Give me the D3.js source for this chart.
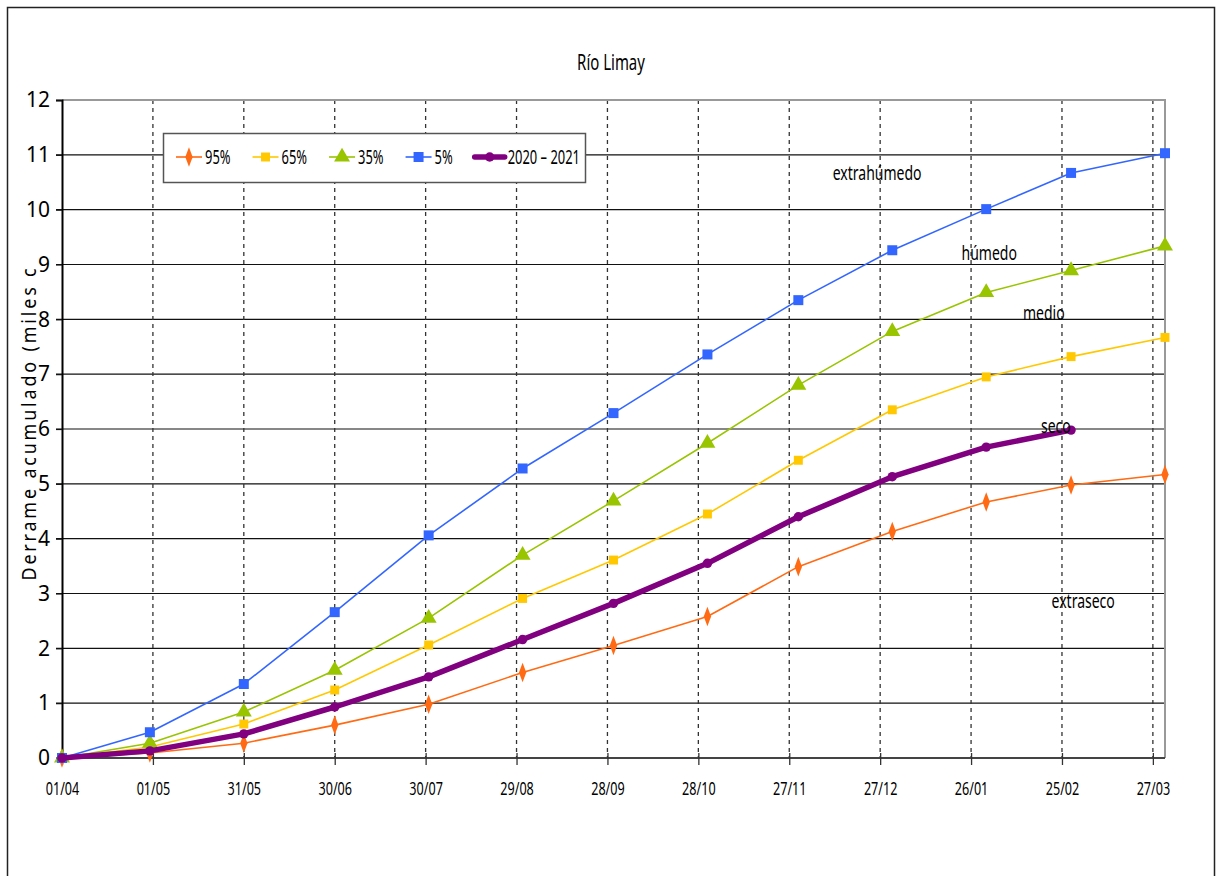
<!DOCTYPE html>
<html>
<head>
<meta charset="utf-8">
<script src="https://cdn.jsdelivr.net/npm/d3@7"></script>
<style>
	body { margin: 0; background: #fff; }
	svg { display: block; }
	text { font-family: "Noto Sans", "DejaVu Sans", sans-serif; fill: #000; }
</style>
</head>
<body>
<svg id="graphic" width="1222" height="876"></svg>
<script>
var W = 1222, H = 876;

// month-end dates of the hydrological year
var dates = ["2020-04-01", "2020-04-30", "2020-05-31", "2020-06-30", "2020-07-31", "2020-08-31",
	"2020-09-30", "2020-10-31", "2020-11-30", "2020-12-31", "2021-01-31", "2021-02-28", "2021-03-31"];

var tickDates = ["2020-04-01", "2020-05-01", "2020-05-31", "2020-06-30", "2020-07-30", "2020-08-29",
	"2020-09-28", "2020-10-28", "2020-11-27", "2020-12-27", "2021-01-26", "2021-02-25", "2021-03-27"];

var yTicks = [0, 1, 2, 3, 4, 5, 6, 7, 8, 9, 10, 11, 12];

var seriesNames = ["95%", "65%", "35%", "5%", "2020 – 2021"];
var p95 = [0, 0.09, 0.27, 0.60, 0.98, 1.56, 2.05, 2.58, 3.49, 4.13, 4.67, 4.98, 5.17];
var p65 = [0, 0.20, 0.62, 1.24, 2.06, 2.91, 3.61, 4.45, 5.43, 6.35, 6.95, 7.32, 7.67];
var p35 = [0, 0.27, 0.84, 1.60, 2.55, 3.70, 4.69, 5.74, 6.80, 7.78, 8.49, 8.89, 9.34];
var p05 = [0, 0.47, 1.35, 2.66, 4.06, 5.28, 6.29, 7.36, 8.35, 9.26, 10.01, 10.67, 11.03];
var y2021 = [0, 0.13, 0.44, 0.93, 1.48, 2.16, 2.82, 3.55, 4.40, 5.13, 5.67, 5.98];

var zoneNames = ["extrahúmedo", "húmedo", "medio", "seco", "extraseco"];
var zoneDates = ["2020-12-26", "2021-02-01", "2021-02-19", "2021-02-23", "2021-03-04"];
var zoneValues = [10.67, 9.21, 8.12, 6.06, 2.86];

var parse = d3.timeParse("%Y-%m-%d");

var svg = d3.select("svg"),
	margin = { top: 100, right: 57, bottom: 118, left: 62 },
	width = W - margin.left - margin.right,
	height = H - margin.top - margin.bottom,
	g = svg.append("g").attr("transform", "translate(" + margin.left + "," + margin.top + ")");

// squeeze a text selection horizontally to mimic the condensed font
function squeeze(sel, k) {
	sel.each(function() {
		var w = this.getComputedTextLength();
		d3.select(this).attr("textLength", w * k).attr("lengthAdjust", "spacingAndGlyphs");
	});
}

// outer frame
svg.append("rect")
	.attr("x", 7.5).attr("y", 7.5)
	.attr("width", W - 15).attr("height", H + 20)
	.attr("fill", "none").attr("stroke", "#222").attr("stroke-width", 1.5);

svg.append("text")
	.attr("x", 611).attr("y", 70)
	.attr("text-anchor", "middle")
	.attr("font-size", "22px")
	.text("Río Limay")
	.call(squeeze, 0.68);

var x = d3.scaleTime()
	.domain([parse(dates[0]), parse(dates[dates.length - 1])])
	.range([0, width]);

var y = d3.scaleLinear()
	.domain([0, 12])
	.range([height, 0]);

// horizontal grid
g.append("g").selectAll("line")
	.data(yTicks.slice(1, -1))
	.enter().append("line")
		.attr("x1", -6).attr("x2", width)
		.attr("y1", function(d) { return y(d); })
		.attr("y2", function(d) { return y(d); })
		.attr("stroke", "#111").attr("stroke-width", 1.2);

// vertical dashed grid
g.append("g").selectAll("line")
	.data(tickDates.slice(1))
	.enter().append("line")
		.attr("x1", function(d) { return x(parse(d)); })
		.attr("x2", function(d) { return x(parse(d)); })
		.attr("y1", 0).attr("y2", height)
		.attr("stroke", "#333").attr("stroke-width", 1.3)
		.attr("stroke-dasharray", "4,4");

// plot frame top / right
g.append("path")
	.attr("d", "M0," + y(12) + "H" + width + "V" + height)
	.attr("fill", "none").attr("stroke", "#999").attr("stroke-width", 2);

// y axis
var yAxis = g.append("g")
	.call(d3.axisLeft(y).tickValues(yTicks).tickSize(6).tickPadding(6));
yAxis.select(".domain").attr("stroke", "#000").attr("stroke-width", 2);
yAxis.selectAll(".tick line").attr("stroke", "#111").attr("stroke-width", 1.2);
yAxis.selectAll("text")
	.attr("font-size", "21px")
	.attr("font-family", "'Open Sans', 'Noto Sans', sans-serif");

// x axis
var xAxis = g.append("g")
	.attr("transform", "translate(0," + height + ")")
	.call(d3.axisBottom(x)
		.tickValues(tickDates.map(parse))
		.tickFormat(d3.timeFormat("%d/%m"))
		.tickSize(7).tickPadding(17));
xAxis.select(".domain").attr("stroke", "#444").attr("stroke-width", 2).attr("d", "M0,0H" + width);
xAxis.selectAll(".tick line").attr("stroke", "#333").attr("y1", -5).attr("stroke-width", 1.3);
xAxis.selectAll("text")
	.attr("font-size", "18px")
	.call(squeeze, 0.7);

// y axis title (cut off in the original too)
svg.append("text")
	.attr("transform", "translate(36,423) rotate(-90)")
	.attr("text-anchor", "middle")
	.attr("font-size", "19px")
	.attr("letter-spacing", "3")
	.attr("textLength", 315)
	.attr("lengthAdjust", "spacingAndGlyphs")
	.text("Derrame acumulado (miles c");

// series
var colors = ["#ff6a13", "#ffc800", "#99c400", "#3366ff", "#800080"];
var symbols = [d3.symbolDiamond, d3.symbolSquare, d3.symbolTriangle, d3.symbolSquare, d3.symbolCircle];
var symSizes = [110, 80, 110, 100, 70];
var symScaleX = [0.65, 1, 1, 1, 1];
var lineWidths = [1.6, 1.6, 1.6, 1.6, 5.5];
var allSeries = [p95, p65, p35, p05, y2021];

var line = d3.line()
	.x(function(d, i) { return x(parse(dates[i])); })
	.y(function(d) { return y(d); });

allSeries.forEach(function(vals, k) {
	var sg = g.append("g").attr("class", "series");
	sg.append("path")
		.datum(vals)
		.attr("d", line)
		.attr("fill", "none")
		.attr("stroke", colors[k])
		.attr("stroke-width", lineWidths[k])
		.attr("stroke-linejoin", "round")
		.attr("stroke-linecap", "round");
	sg.selectAll("path.mark")
		.data(vals)
		.enter().append("path")
			.attr("class", "mark")
			.attr("d", d3.symbol().type(symbols[k]).size(symSizes[k]))
			.attr("fill", colors[k])
			.attr("transform", function(d, i) {
				return "translate(" + x(parse(dates[i])) + "," + y(d) + ") scale(" + symScaleX[k] + ",1)";
			});
});

// zone labels
g.append("g").selectAll("text")
	.data(zoneNames)
	.enter().append("text")
		.attr("x", function(d, i) { return x(parse(zoneDates[i])); })
		.attr("y", function(d, i) { return y(zoneValues[i]); })
		.attr("dy", "0.35em")
		.attr("text-anchor", "middle")
		.attr("font-size", "20px")
		.text(function(d) { return d; })
		.call(squeeze, 0.7);

// legend
var leg = svg.append("g").attr("transform", "translate(163,133)");
leg.append("rect")
	.attr("x", 0.5).attr("y", 0.5)
	.attr("width", 422).attr("height", 49)
	.attr("fill", "#fff").attr("stroke", "#555").attr("stroke-width", 1.5);

var lx = 13;
seriesNames.forEach(function(name, k) {
	var lineLen = k == 4 ? 30 : 26;
	var eg = leg.append("g").attr("transform", "translate(" + lx + ",24)");
	eg.append("line")
		.attr("x1", 0).attr("x2", lineLen)
		.attr("stroke", colors[k]).attr("stroke-width", lineWidths[k])
		.attr("stroke-linecap", k == 4 ? "round" : "butt");
	eg.append("path")
		.attr("d", d3.symbol().type(symbols[k]).size(symSizes[k]))
		.attr("fill", colors[k])
		.attr("transform", "translate(" + (lineLen / 2) + ",0) scale(" + symScaleX[k] + ",1)");
	var t = eg.append("text")
		.attr("x", lineLen + 3)
		.attr("dy", "0.35em")
		.attr("font-size", "19px")
		.text(name)
		.call(squeeze, 0.68);
	lx += lineLen + 3 + (+t.attr("textLength")) + 22;
});
</script>
</body>
</html>
